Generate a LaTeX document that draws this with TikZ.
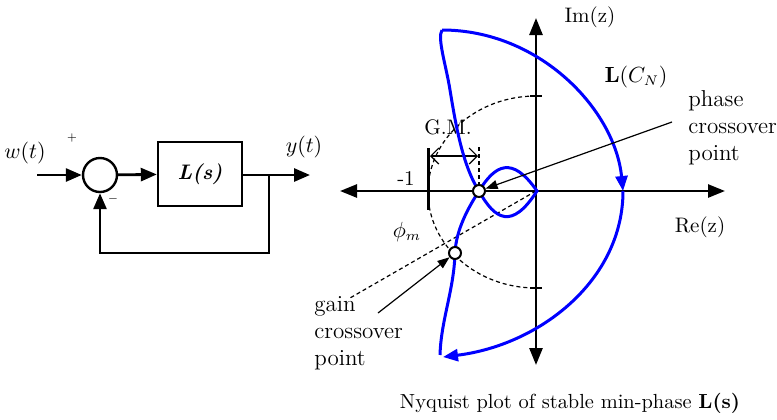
\documentclass[tikz,border=0pt]{standalone}
\usepackage{amsmath,amssymb}
\usepackage{tikz}
\usetikzlibrary{arrows.meta}
\definecolor{nyqblue}{HTML}{0000FF}

\begin{document}
\begin{tikzpicture}[x=0.5pt,y=-0.5pt,font=\fontsize{10.5}{13}\selectfont,
  sig/.style={line width=1.4pt},
  tip/.style={-{Triangle[length=8pt,width=6.5pt]}},
  axis/.style={line width=1.3pt,{Triangle[length=8.5pt,width=6.5pt]}-{Triangle[length=8.5pt,width=6.5pt]}},
  nyq/.style={nyqblue,line width=1.5pt},
  guide/.style={line width=0.6pt,dash pattern=on 2pt off 1.5pt},
  xpt/.style={draw,circle,fill=white,line width=1pt,minimum size=6pt,inner sep=0pt},
  pointer/.style={line width=0.6pt,-{Triangle[length=6pt,width=4.5pt]}},
  lab/.style={inner sep=0pt},
  note/.style={inner sep=0pt,align=left,anchor=west,font=\fontsize{11.5}{13.5}\selectfont}]
  \useasboundingbox (0,0) rectangle (777,419);

  % feedback loop
  \coordinate (win) at (37,175);
  \node[draw,circle,line width=1.2pt,minimum size=17pt,inner sep=0pt] (sum) at (100,175) {};
  \node[draw,line width=1.2pt,minimum width=42pt,minimum height=32pt] (Ls) at (200,174) {\textbf{\textit{L(s)}}};
  \coordinate (br) at (269,175);
  \coordinate (yout) at (310,175);
  \coordinate (fb) at (269,253);
  \draw[sig,tip] (win) -- (sum);
  \draw[sig,tip] (sum) -- (Ls);
  \draw[sig,tip] (Ls.east |- br) -- (yout);
  \draw[sig,tip] (br) -- (fb) -| (sum.south);
  \node[lab] (wlab) at (25,153) {$w(t)$};
  \node[lab] (ylab) at (304,147) {$y(t)$};
  \node[lab,font=\tiny] (plus) at (72,138) {+};
  \node[lab,font=\tiny] (minus) at (113,199) {$-$};

  % Nyquist plane
  \coordinate (O) at (536,191);
  \draw[axis] (340,191) -- (725,191);
  \draw[axis] (536,365) -- (536,18);
  \node[lab] (im) at (590,17) {Im(z)};
  \node[lab] (re) at (700,227) {Re(z)};
  \draw[line width=1.5pt] (428,148) -- (428,210);
  \node[lab] (m1) at (406,178) {-1};
  \draw[guide] (536,96) arc[start angle=270,end angle=90,x radius=108,y radius=96];
  \draw[line width=0.6pt] (530,96) -- (542,96) (530,288) -- (542,288);
  \draw[guide] (O) -- (350,298);
  \draw[guide] (479,147) -- (479,188);
  \draw[line width=0.6pt,{Straight Barb[length=4pt]}-{Straight Barb[length=4pt]}] (430,156) -- (478,156);
  \node[lab] (gm) at (448,127) {G.M.};
  \node[lab] (phim) at (407,232) {$\phi_m$};

  % L(C_N)
  \draw[nyq] (440,355) .. controls (441,320) and (454,290) .. (455,253)
    .. controls (456,230) and (468,208) .. (479,191)
    .. controls (495,165) and (512,155) .. (537,191)
    .. controls (512,230) and (495,220) .. (479,191)
    .. controls (462,165) and (455,120) .. (450,90)
    .. controls (446,65) and (437,38) .. (442,30);
  \draw[nyq,-{Triangle[length=7.5pt,width=6pt]}] (442,30) .. controls (540,30) and (615,110) .. (623,191);
  \draw[nyq,-{Triangle[length=7.5pt,width=6pt]}] (623,191) .. controls (623,280) and (540,345) .. (443,357);
  \node[lab] (lcn) at (636,77) {$\mathbf{L}(C_N)$};

  % crossover points
  \node[xpt] (pc) at (479,191) {};
  \node[xpt] (gc) at (455,253) {};
  \node[note] (pclab) at (688,128) {phase\\crossover\\point};
  \node[note] (gclab) at (314,333) {gain\\crossover\\point};
  \coordinate (pcA) at (672,122);
  \coordinate (gcA) at (378,313);
  \draw[pointer] (pcA) -- (pc);
  \draw[pointer] (gcA) -- (gc);

  \node[lab,font=\fontsize{10.2}{12}\selectfont] (cap) at (570,403) {Nyquist plot of stable min-phase \textbf{L(s)}};
\end{tikzpicture}
\end{document}
